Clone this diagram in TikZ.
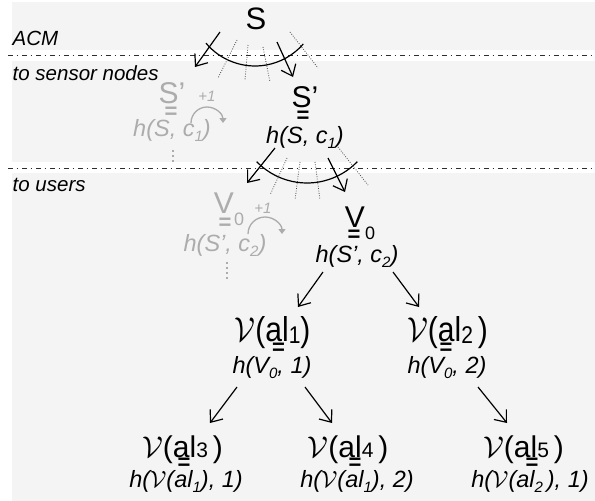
\RequirePackage{fix-cm}
\documentclass[tikz,border=0pt]{standalone}
\usepackage{fontspec}
\setmainfont{Liberation Sans}
\usetikzlibrary{arrows.meta}
\definecolor{bg}{RGB}{244,244,244}
\definecolor{lg}{RGB}{172,172,172}
\definecolor{dl}{RGB}{45,45,45}
\definecolor{dotc}{RGB}{70,70,70}
\newcommand\lo[3]{\raisebox{-#1}{\fontsize{#2}{#2}\selectfont #3}}
\newcommand\hs[1]{\raisebox{-0.22em}{\fontsize{15}{16}\selectfont #1}}
\newcommand\cV{$\mathcal{V}$}
\newcommand\tall[1]{\scalebox{1}[1.15]{#1}}
\tikzset{
  txt/.style={inner sep=0pt, anchor=base},
  big/.style={txt, font=\fontsize{30}{32}\selectfont},
  hl/.style={txt, font=\fontsize{23.5}{26}\selectfont\itshape},
  side/.style={inner sep=0pt, anchor=base west, font=\fontsize{20.5}{22}\selectfont\itshape},
  eqs/.style={inner sep=0pt, font=\fontsize{22}{22}\selectfont\bfseries},
  plus/.style={inner sep=0pt, font=\fontsize{15}{16}\selectfont\itshape},
  arr/.style={-{Straight Barb[length=10pt,width=16pt]}, line width=1.2pt},
  garr/.style={lg, line width=1.3pt, -{Triangle[length=5pt,width=7pt]}},
  dotl/.style={dotc, line width=0.8pt, dash pattern=on 0.8pt off 1.6pt},
  sepl/.style={dl, line width=1pt, dash pattern=on 5pt off 3.5pt on 1.5pt off 4pt},
  vdots/.style={lg, line width=2.2pt, dash pattern=on 2pt off 3pt},
  faded/.style={text=lg}
}
\begin{document}
\begin{tikzpicture}[x=1pt,y=1pt]
\useasboundingbox (0,0) rectangle (595,-501);
% background
\fill[bg] (12,-2) rectangle (595,-501);
\fill[white] (12,-50) rectangle (595,-61);
\fill[white] (12,-162) rectangle (595,-173);
\draw[sepl] (8,-55.5) -- (595,-55.5);
\draw[sepl] (8,-168) -- (595,-168);
% side labels
\node[side] (acm) at (12.5,-45) {ACM};
\node[side] (tsn) at (12.5,-80) {to sensor nodes};
\node[side] (tus) at (12.5,-191) {to users};
% root
\node[big, font=\fontsize{31}{32}\selectfont] (s) at (256,-29) {S};
% fan 1
\begin{scope}[shift={(255,-2)}]
  \coordinate (f1) at (0,0);
  \draw[arr] (-35,-30) -- (-60,-65);
  \draw[arr] (22,-40) -- (38,-75);
  \draw[line width=1.2pt] (220:64) arc[start angle=220, end angle=319, radius=64];
  \draw[dotl] (-18,-38) -- (-37,-76);
  \draw[dotl] (-7,-43) -- (-10,-78);
  \draw[dotl] (8,-45) -- (15,-80);
  \draw[dotl] (35,-30) -- (63,-66);
\end{scope}
% grey S'
\node[big, faded] (gs) at (172,-103) {S'};
\node[eqs, text=lg] (gseq) at (171,-112.5) {=};
\node[hl, faded] (gsh) at (172,-136) {h(S, c\hs{1})};
\node[plus, text=lg] (gp1) at (207,-96) {+1};
\draw[garr] (191,-123) arc[start angle=180, end angle=0, radius=16];
\draw[vdots] (173,-150) -- (173,-163);
% black S'
\node[big] (s1) at (305,-107) {S'};
\node[eqs] (s1eq) at (303,-117) {=};
\node[hl] (s1h) at (305,-143) {h(S, c\hs{1})};
% fan 2
\begin{scope}[shift={(307,-113)}]
  \coordinate (f2) at (0,0);
  \draw[arr] (-32,-35) -- (-60,-70);
  \draw[arr] (21,-45) -- (38,-79);
  \draw[line width=1.2pt] (224:70) arc[start angle=224, end angle=316, radius=70];
  \draw[dotl] (-20,-45) -- (-37,-82);
  \draw[dotl] (-7,-49) -- (-12,-87);
  \draw[dotl] (8,-49) -- (13,-87);
  \draw[dotl] (31,-34) -- (61,-72);
\end{scope}
% grey V0
\node[big, faded] (gv) at (229,-213) {V\lo{0.42em}{18}{0}};
\node[eqs, text=lg] (gveq) at (225,-224) {=};
\node[hl, faded] (gvh) at (225,-251) {h(S', c\hs{2})};
\node[plus, text=lg] (gp2) at (263,-208) {+1};
\draw[garr] (248,-234) arc[start angle=180, end angle=0, radius=17];
\draw[vdots] (227,-262) -- (227,-281);
% black V0
\node[big] (v0) at (360,-227) {V\lo{0.42em}{18}{0}};
\node[eqs] (v0eq) at (354,-236) {=};
\node[hl] (v0h) at (357,-262) {h(S', c\hs{2})};
% level 1
\node[big] (al1) at (272.5,-341) {\tall{\cV(al\lo{0.08em}{21}{1})}};
\node[eqs] (al1eq) at (278.5,-349) {=};
\node[hl] (al1h) at (272,-373) {h(V\hs{0}, 1)};
\node[big] (al2) at (447.5,-341) {\tall{\cV(al\lo{0.08em}{21}{2}\,)}};
\node[eqs] (al2eq) at (446,-349) {=};
\node[hl] (al2h) at (447,-373) {h(V\hs{0}, 2)};
% level 2
\node[big] (al3) at (182.5,-457) {\cV(al\lo{0.02em}{21}{3}\,)};
\node[eqs] (al3eq) at (184,-464) {=};
\node[hl] (al3h) at (186,-487) {h(\cV(al\hs{1}), 1)};
\node[big] (al4) at (348,-457) {\cV(al\lo{0.02em}{21}{4}\,)};
\node[eqs] (al4eq) at (355,-464) {=};
\node[hl] (al4h) at (357,-487) {h(\cV(al\hs{1}), 2)};
\node[big] (al5) at (523.5,-457) {\cV(al\lo{0.02em}{21}{5}\,)};
\node[eqs] (al5eq) at (532,-464) {=};
\node[hl] (al5h) at (530,-487) {h(\cV(al\hs{2}\,), 1)};
% tree connectors
\draw[arr] ([shift={(-34,-10)}]v0h.base) -- ([shift={(25.5,34)}]al1.base);
\draw[arr] ([shift={(36,-10)}]v0h.base) -- ([shift={(-28.5,34)}]al2.base);
\draw[arr] ([shift={(-35,-14)}]al1h.base) -- ([shift={(27.5,34)}]al3.base);
\draw[arr] ([shift={(33,-14)}]al1h.base) -- ([shift={(-16,34)}]al4.base);
\draw[arr] ([shift={(31,-14)}]al2h.base) -- ([shift={(-16.5,34)}]al5.base);
\end{tikzpicture}
\end{document}
